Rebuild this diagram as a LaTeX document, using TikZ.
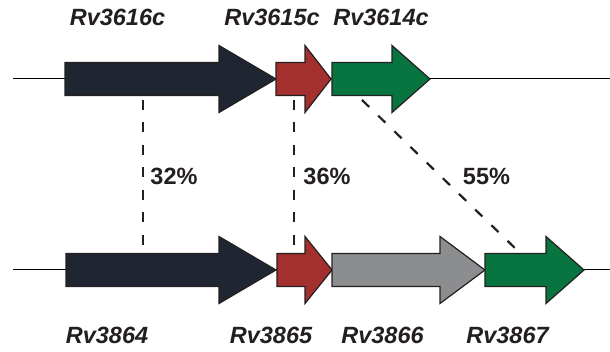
\documentclass[tikz,border=0pt]{standalone}
\usepackage{fontspec}
\setmainfont{Liberation Sans}
\begin{document}
\begin{tikzpicture}[x=1pt,y=-1pt,
  genebox/.style={draw=outl, line width=1.2pt, line join=miter},
  genelabel/.style={anchor=base, inner sep=0pt, text=txt, font=\fontsize{23.5}{27}\selectfont\bfseries\itshape},
  pctlabel/.style={anchor=base, inner sep=0pt, text=txt, font=\fontsize{23.5}{27}\selectfont\bfseries},
  homology/.style={draw=txt, line width=2.2pt, dash pattern=on 10pt off 12.5pt},
  strand/.style={draw=black, line width=1pt}]
\definecolor{navy}{HTML}{1F2631}
\definecolor{brick}{HTML}{A3302E}
\definecolor{leaf}{HTML}{087440}
\definecolor{ash}{HTML}{8C8D8F}
\definecolor{outl}{HTML}{231F20}
\definecolor{txt}{HTML}{231F20}
\useasboundingbox (0,0) rectangle (610,352);

% gene arrow: start x, head start x, tip x, centre y, fill colour
\newcommand{\genearrow}[5]{%
  \path[genebox, fill=#5] (#1,#4-16.5) -- (#2,#4-16.5) -- (#2,#4-33.5) -- (#3,#4)
    -- (#2,#4+33.5) -- (#2,#4+16.5) -- (#1,#4+16.5) -- cycle;}

% chromosome strands
\coordinate (tl) at (13,79);  \coordinate (tr) at (610,79);
\coordinate (bl) at (13,270); \coordinate (br) at (610,270);
\draw[strand] (tl) -- (tr);
\draw[strand] (bl) -- (br);

% upper locus
\genearrow{65}{219}{276}{79}{navy}
\genearrow{276}{305}{331}{79}{brick}
\genearrow{332}{392}{430}{79}{leaf}

% lower locus
\genearrow{66}{219}{276}{270}{navy}
\genearrow{277}{305}{332}{270}{brick}
\genearrow{332}{440}{485}{270}{ash}
\genearrow{485}{546}{584}{270}{leaf}

% homology links
\coordinate (a1) at (143,100); \coordinate (a2) at (143,254);
\coordinate (b1) at (294,100); \coordinate (b2) at (294,254);
\coordinate (c1) at (362,100); \coordinate (c2) at (518,251);
\draw[homology] (a1) -- (a2);
\draw[homology] (b1) -- (b2);
\draw[homology] (c1) -- (c2);

% gene names
\node[genelabel] (g1) at (117.5,26) {Rv3616c};
\node[genelabel] (g2) at (272,26) {Rv3615c};
\node[genelabel] (g3) at (381,26) {Rv3614c};
\node[genelabel] (h1) at (107,344) {Rv3864};
\node[genelabel] (h2) at (271,344) {Rv3865};
\node[genelabel] (h3) at (382.5,344) {Rv3866};
\node[genelabel] (h4) at (507.5,344) {Rv3867};

% identities
\node[pctlabel] (p1) at (174,184.5) {32\%};
\node[pctlabel] (p2) at (327,184.5) {36\%};
\node[pctlabel] (p3) at (486.5,184.5) {55\%};
\end{tikzpicture}
\end{document}
